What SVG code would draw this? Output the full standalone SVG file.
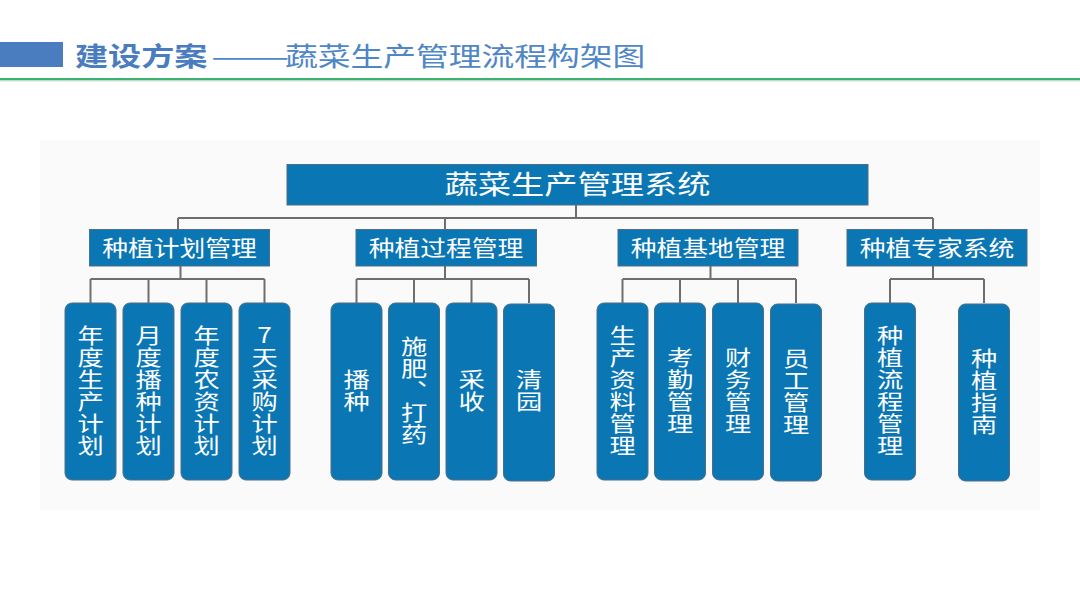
<svg xmlns="http://www.w3.org/2000/svg" width="1080" height="608" viewBox="0 0 1080 608">
<style>
text{font-family:"Noto Sans CJK SC","Noto Sans",sans-serif;}
.box{fill:#0a76b4;stroke:#4d6f86;stroke-width:1;}
.t{fill:#ffffff;text-anchor:middle;}
.top{font-size:26px;}
.l2{font-size:21.5px;}
.lf{font-size:21px;writing-mode:vertical-rl;text-orientation:upright;letter-spacing:1px;}
.con path{fill:none;stroke:#6e6e6e;stroke-width:2;}
</style>
<rect x="0" y="0" width="1080" height="608" fill="#ffffff"/>
<g id="header">
<rect x="0" y="42" width="63" height="25" fill="#4a7dbf"/>
<text transform="translate(75,66) scale(1.25,1)" font-size="26.5" font-weight="bold" fill="#4a7cc0">建设方案</text>
<text transform="translate(211,66) scale(1.8,1)" font-size="26" fill="#4f86c6">——</text>
<text transform="translate(285,66) scale(1.26,1)" font-size="26" fill="#4f86c6">蔬菜生产管理流程构架图</text>
<rect x="0" y="78" width="1080" height="2.5" fill="#38b26c"/>
<rect x="0" y="80.5" width="1080" height="1" fill="#d8e6dc"/>
</g>
<rect x="40" y="140" width="1000" height="370" fill="#fafafa"/>
<g class="con" id="connectors">
<path d="M576 205V218M178 218H933M178 218V229.5M445 218V229.5M933 218V229.5"/>
<path d="M180.5 266V279M90.5 279H264.5M90.5 279V303M148.5 279V303M206.5 279V303M264.5 279V303"/>
<path d="M445 266V279M356.5 279H529M356.5 279V303M414 279V303M471.5 279V303M529 279V303"/>
<path d="M710.5 266V279M622.5 279H796M622.5 279V303M680 279V303M738 279V303M796 279V303"/>
<path d="M933 266V279M890 279H984M890 279V303M984 279V303"/>
</g>
<g id="root">
<rect class="box" x="287" y="164.5" width="581" height="40.5"/>
<text class="t top" transform="translate(577.5,194) scale(1.28,1)">蔬菜生产管理系统</text>
</g>
<g id="n-plan">
<rect class="box" x="89.5" y="229.5" width="180" height="36.5"/>
<text class="t l2" transform="translate(179.5,255.5) scale(1.2,1)">种植计划管理</text>
</g>
<g id="n-process">
<rect class="box" x="356" y="229.5" width="180.5" height="36.5"/>
<text class="t l2" transform="translate(446,255.5) scale(1.2,1)">种植过程管理</text>
</g>
<g id="n-base">
<rect class="box" x="618" y="229.5" width="180" height="36.5"/>
<text class="t l2" transform="translate(708,255.5) scale(1.2,1)">种植基地管理</text>
</g>
<g id="n-expert">
<rect class="box" x="847" y="229.5" width="180" height="36.5"/>
<text class="t l2" transform="translate(937,255.5) scale(1.2,1)">种植专家系统</text>
</g>
<g id="leaf1"><rect class="box" x="65" y="303" width="51" height="177" rx="7"/>
<text class="t lf" transform="translate(90.5,391) scale(1.25,1)">年度生产计划</text></g>
<g id="leaf2"><rect class="box" x="123" y="303" width="51" height="177" rx="7"/>
<text class="t lf" transform="translate(148.5,391) scale(1.25,1)">月度播种计划</text></g>
<g id="leaf3"><rect class="box" x="181" y="303" width="51" height="177" rx="7"/>
<text class="t lf" transform="translate(206.5,391) scale(1.25,1)">年度农资计划</text></g>
<g id="leaf4"><rect class="box" x="239" y="303" width="51" height="177" rx="7"/>
<text class="t lf" transform="translate(264.5,391) scale(1.25,1)">7天采购计划</text></g>
<g id="leaf5"><rect class="box" x="331" y="303" width="51" height="177" rx="7"/>
<text class="t lf" transform="translate(356.5,391) scale(1.25,1)">播种</text></g>
<g id="leaf6"><rect class="box" x="388.5" y="303" width="51" height="177" rx="7"/>
<text class="t lf" transform="translate(414,391) scale(1.25,1)">施肥、打药</text></g>
<g id="leaf7"><rect class="box" x="446" y="303" width="51" height="177" rx="7"/>
<text class="t lf" transform="translate(471.5,391) scale(1.25,1)">采收</text></g>
<g id="leaf8"><rect class="box" x="503.5" y="304" width="51" height="177" rx="7"/>
<text class="t lf" transform="translate(529,391) scale(1.25,1)">清园</text></g>
<g id="leaf9"><rect class="box" x="597" y="303" width="51" height="177" rx="7"/>
<text class="t lf" transform="translate(622.5,391) scale(1.25,1)">生产资料管理</text></g>
<g id="leaf10"><rect class="box" x="654.5" y="303" width="51" height="177" rx="7"/>
<text class="t lf" transform="translate(680,391) scale(1.25,1)">考勤管理</text></g>
<g id="leaf11"><rect class="box" x="712.5" y="303" width="51" height="177" rx="7"/>
<text class="t lf" transform="translate(738,391) scale(1.25,1)">财务管理</text></g>
<g id="leaf12"><rect class="box" x="770.5" y="304" width="51" height="177" rx="7"/>
<text class="t lf" transform="translate(796,392) scale(1.25,1)">员工管理</text></g>
<g id="leaf13"><rect class="box" x="864.5" y="303" width="51" height="177" rx="7"/>
<text class="t lf" transform="translate(890,391) scale(1.25,1)">种植流程管理</text></g>
<g id="leaf14"><rect class="box" x="958.5" y="304" width="51" height="177" rx="7"/>
<text class="t lf" transform="translate(984,392) scale(1.25,1)">种植指南</text></g>
</svg>
